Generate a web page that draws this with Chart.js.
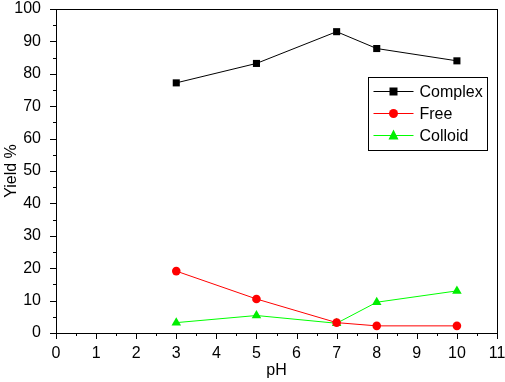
<!DOCTYPE html>
<html>
<head>
<meta charset="utf-8">
<script src="https://cdn.jsdelivr.net/npm/chart.js@4"></script>
<style>
  html, body { margin: 0; padding: 0; background: #fff; }
  #wrap { width: 505px; height: 382px; }
</style>
</head>
<body>
<div id="wrap"><canvas id="yieldChart"></canvas></div>
<script>
// values
var phValues = [3, 5, 7, 8, 10];
var complexYield = [77.2, 83.2, 93, 87.8, 84];
var freeYield = [19.1, 10.5, 3.2, 2.2, 2.2];
var colloidYield = [3.2, 5.4, 3.0, 9.5, 13];
var seriesNames = ['Complex', 'Free', 'Colloid'];

function toPoints(ys) {
  return phValues.map(function(x, i) { return {x: x, y: ys[i]}; });
}

Chart.defaults.font.family = 'Liberation Sans, Arial, sans-serif';
Chart.defaults.font.size = 16;
Chart.defaults.color = '#000';

// frame, minor ticks and an Origin-style legend
var framePlugin = {
  id: 'frame',
  afterDraw: function(chart) {
    var ctx = chart.ctx, a = chart.chartArea;
    var xs = chart.scales.x, ys = chart.scales.y;
    ctx.save();
    ctx.strokeStyle = '#000';
    ctx.lineWidth = 1;
    ctx.strokeRect(a.left + 0.5, a.top + 0.5, a.right - a.left, a.bottom - a.top);
    ctx.beginPath();
    for (var v = 0; v <= 11; v += 0.5) {
      var px = Math.round(xs.getPixelForValue(v)) + 0.5;
      var len = (v % 1 === 0) ? 6 : 3;
      ctx.moveTo(px, a.bottom); ctx.lineTo(px, a.bottom + len);
    }
    for (var w = 0; w <= 100; w += 5) {
      var py = Math.round(ys.getPixelForValue(w)) + 0.5;
      var l2 = (w % 10 === 0) ? 6 : 3;
      ctx.moveTo(a.left, py); ctx.lineTo(a.left - l2, py);
    }
    ctx.stroke();

    // legend box
    var bx = 368.5, by = 77.5, bw = 119, bh = 73;
    ctx.strokeRect(bx, by, bw, bh);
    ctx.font = '16px Liberation Sans, Arial, sans-serif';
    ctx.textBaseline = 'middle';
    chart.data.datasets.forEach(function(ds, i) {
      var cy = by + 14 + i * 22;
      ctx.strokeStyle = ds.borderColor;
      ctx.beginPath();
      ctx.moveTo(bx + 5, cy); ctx.lineTo(bx + 45, cy);
      ctx.stroke();
      ctx.fillStyle = ds.backgroundColor;
      ctx.beginPath();
      if (ds.pointStyle === 'rect') {
        ctx.rect(bx + 21, cy - 4, 8, 8);
      } else if (ds.pointStyle === 'circle') {
        ctx.arc(bx + 25, cy, 4.5, 0, Math.PI * 2);
      } else {
        ctx.moveTo(bx + 25, cy - 6); ctx.lineTo(bx + 30, cy + 4); ctx.lineTo(bx + 20, cy + 4);
        ctx.closePath();
      }
      ctx.fill();
      ctx.fillStyle = '#000';
      ctx.fillText(ds.label, bx + 51, cy + 1);
    });
    ctx.restore();
  }
};

function makeChart() {
  var chart = new Chart('yieldChart', {
    type: 'line',
    data: {
      datasets: [
        {
          label: seriesNames[0],
          data: toPoints(complexYield),
          borderColor: '#000',
          backgroundColor: '#000',
          borderWidth: 1,
          pointStyle: 'rect',
          pointRadius: 5,
          pointBorderWidth: 0
        },
        {
          label: seriesNames[1],
          data: toPoints(freeYield),
          borderColor: '#ff0000',
          backgroundColor: '#ff0000',
          borderWidth: 1,
          pointStyle: 'circle',
          pointRadius: 4.3,
          pointBorderWidth: 0
        },
        {
          label: seriesNames[2],
          data: toPoints(colloidYield),
          borderColor: '#00ff00',
          backgroundColor: '#00ee00',
          borderWidth: 1,
          pointStyle: 'triangle',
          pointRadius: 5.5,
          pointBorderWidth: 0
        }
      ]
    },
    options: {
      responsive: true,
      maintainAspectRatio: false,
      animation: false,
      layout: { padding: { top: 9, right: 8, left: 0, bottom: 0 } },
      plugins: {
        legend: { display: false },
        tooltip: { enabled: false }
      },
      scales: {
        x: {
          type: 'linear',
          min: 0,
          max: 11,
          border: { display: false },
          grid: { display: false },
          ticks: { stepSize: 1, padding: 3, maxRotation: 0, autoSkip: false },
          title: { display: true, text: 'pH', padding: { top: 1, bottom: 2 } },
          afterFit: function(s) { s.height = 49; s.paddingLeft = 0; s.paddingRight = 0; }
        },
        y: {
          min: 0,
          max: 100,
          border: { display: false },
          grid: { display: false },
          ticks: { stepSize: 10, padding: 7 },
          title: { display: true, text: 'Yield %', padding: { top: 2, bottom: 0 } },
          afterFit: function(s) { s.width = 56; s.paddingTop = 0; s.paddingBottom = 0; }
        }
      }
    },
    plugins: [framePlugin]
  });
}

makeChart();
</script>
</body>
</html>
